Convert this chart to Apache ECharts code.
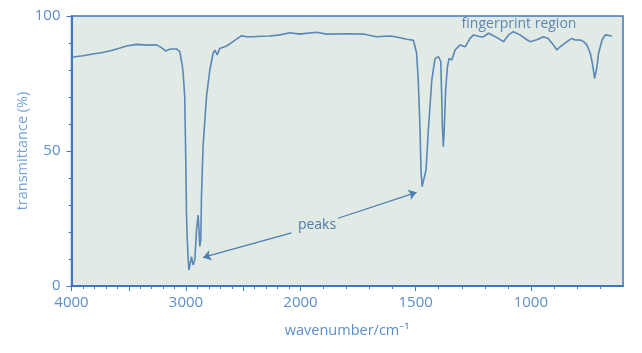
<!DOCTYPE html>
<html><head><meta charset="utf-8">
<script src="https://cdn.jsdelivr.net/npm/echarts@6/dist/echarts.min.js"></script>
<style>html,body{margin:0;padding:0;background:#fff}#c{width:642px;height:353px}</style>
</head><body><div id="c"></div>
<script>
// ---- data ----
const wavenumber = [4000,3900,3814,3740,3659,3590,3520,3432,3340,3258,3214,3176,3150,3127,3083,3054,3031,3025,3011,3002,2996,2990,2982,2975,2962,2952,2938,2923,2908,2894,2886,2880,2871,2865,2851,2821,2792,2763,2748,2728,2705,2646,2589,2515,2470,2414,2350,2268,2180,2093,2006,1930,1887,1800,1728,1670,1612,1583,1539,1510,1496,1489,1481,1477,1472,1464,1455,1445,1430,1416,1401,1391,1387,1384,1380,1376,1370,1362,1355,1343,1329,1307,1285,1264,1249,1220,1206,1184,1141,1119,1097,1076,1047,1017,1003,974,945,925,902,887,873,843,822,807,786,771,757,742,733,723,713,706,691,677,648];
const transmittance = [84.7,85.3,85.9,86.4,87.1,88.0,88.9,89.5,89.2,89.3,88.3,87.0,87.6,87.8,87.8,86.8,81.2,78.8,70.1,46.4,27.0,18.3,10.9,5.9,8.5,10.9,7.8,9.6,20.7,26.3,20.7,14.6,17.0,33.1,51.6,70.1,80.0,86.2,87.4,85.6,88.0,88.9,90.5,92.7,92.3,92.3,92.5,92.6,93.0,93.8,93.3,94.0,93.3,93.4,93.3,92.3,92.6,92.2,91.4,91.0,86.3,76.3,57.8,43.0,36.8,36.2,43.0,57.8,76.3,84.3,84.9,83.1,70.1,59.0,51.6,57.8,72.6,81.2,84.3,83.7,87.4,89.3,88.6,91.7,93.0,92.3,92.3,93.6,91.7,90.5,93.0,94.2,93.0,91.2,90.5,91.2,92.3,91.7,89.3,87.4,88.6,90.5,91.7,91.1,91.1,90.5,89.3,86.2,82.5,76.9,81.2,86.2,91.1,93.0,92.6];
const xLabelsHigh = [4000, 3000];
const xLabelsLow = [2000, 1500, 1000];
const xMajorHigh = [4000, 3500, 3000, 2500, 2000];
const xMajorLow = [2000, 1500, 1000];
const xMinorHigh = [4000,3900,3800,3700,3600,3500,3400,3300,3200,3100,3000,2900,2800,2700,2600,2500,2400,2300,2200,2100,2000];
const xMinorLow = [2000,1900,1800,1700,1600,1500,1400,1300,1200,1100,1000,900,800,700];
const yTicks = [0, 50, 100];
const arrowToCH = [[2079, 19.7], [2851, 10.6]];
const arrowToCH3 = [[1837, 25.1], [1496, 34.7]];

// ---- styling ----
const AXIS = '#3f77c3';
const LABEL = '#5b8ecb';
const NAME = '#76a4d6';
const LINE = '#5a87b8';
const FONT = '"Open Sans", "Noto Sans", sans-serif';

const pts = wavenumber.map((w, i) => [w, transmittance[i]]);
const L = 71.5, T = 16, H = 270, WA = 229, WB = 322.5;

function xAxisPair(grid, min, max, minor, major, labels) {
  return [
    { gridIndex: grid, type: 'value', min, max, inverse: true, position: 'bottom',
      axisLine: { show: true, lineStyle: { color: AXIS, width: 2 } },
      axisTick: { show: true, customValues: minor, length: 3, lineStyle: { color: AXIS, width: 1 } },
      axisLabel: { show: false }, splitLine: { show: false } },
    { gridIndex: grid, type: 'value', min, max, inverse: true, position: 'bottom',
      axisLine: { show: false },
      axisTick: { show: true, customValues: major, length: 5, lineStyle: { color: AXIS, width: 1 } },
      axisLabel: { show: true, customValues: labels, color: LABEL, fontSize: 15, fontFamily: FONT, margin: 9,
        formatter: v => String(v) },
      splitLine: { show: false } }
  ];
}

const chart = echarts.init(document.getElementById('c'), null, { renderer: 'canvas' });
chart.setOption({
  animation: false,
  backgroundColor: '#ffffff',
  grid: [
    { left: L, top: T, width: WA + WB, height: H, show: true, backgroundColor: '#e1eae5', borderColor: AXIS, borderWidth: 1.5 },
    { left: L, top: T, width: WA, height: H },
    { left: L + WA, top: T, width: WB, height: H }
  ],
  xAxis: [
    { gridIndex: 0, type: 'value', show: false, min: 0, max: 1 },
    ...xAxisPair(1, 2000, 4000, xMinorHigh, xMajorHigh, xLabelsHigh),
    ...xAxisPair(2, 600, 2000, xMinorLow, xMajorLow, xLabelsLow)
  ],
  yAxis: [
    { gridIndex: 0, type: 'value', show: false, min: 0, max: 1 },
    { gridIndex: 1, type: 'value', min: 0, max: 100, interval: 50,
      name: 'transmittance (%)', nameLocation: 'middle', nameGap: 33, nameRotate: 90,
      nameTextStyle: { color: NAME, fontSize: 14.5, fontFamily: FONT },
      axisLine: { show: true, lineStyle: { color: AXIS, width: 2 } },
      axisTick: { show: true, length: 5, lineStyle: { color: AXIS } },
      minorTick: { show: true, splitNumber: 5, length: 3, lineStyle: { color: AXIS } },
      axisLabel: { color: LABEL, fontSize: 15, fontFamily: FONT, margin: 11, formatter: v => String(v) },
      splitLine: { show: false }, minorSplitLine: { show: false } },
    { gridIndex: 2, type: 'value', show: false, min: 0, max: 100 }
  ],
  series: [
    { type: 'line', xAxisIndex: 1, yAxisIndex: 1, data: pts, showSymbol: false, clip: true,
      lineStyle: { color: LINE, width: 1.6 }, silent: true,
      markLine: { silent: true, symbol: ['none', 'arrow'], symbolSize: 8, label: { show: false },
        lineStyle: { color: '#4c7db3', width: 1.2, type: 'solid' },
        data: [[{ coord: arrowToCH[0] }, { coord: arrowToCH[1] }]] } },
    { type: 'line', xAxisIndex: 3, yAxisIndex: 2, data: pts, showSymbol: false, clip: true,
      lineStyle: { color: LINE, width: 1.6 }, silent: true,
      markLine: { silent: true, symbol: ['none', 'arrow'], symbolSize: 8, label: { show: false },
        lineStyle: { color: '#4c7db3', width: 1.2, type: 'solid' },
        data: [[{ coord: arrowToCH3[0] }, { coord: arrowToCH3[1] }]] } }
  ],
  graphic: [
    { type: 'text', x: 317, y: 225, z: 10, style: { text: 'peaks', align: 'center', verticalAlign: 'middle', textAlign: 'center', textVerticalAlign: 'middle', fill: '#4f7aa8', font: '14px ' + FONT } },
    { type: 'text', x: 519, y: 24, z: 10, style: { text: 'fingerprint region', align: 'center', verticalAlign: 'middle', textAlign: 'center', textVerticalAlign: 'middle', fill: '#5d87b5', font: '14px ' + FONT } },
    { type: 'text', x: 347, y: 331, z: 10, style: { text: 'wavenumber/cm\u207B\u00B9', align: 'center', verticalAlign: 'middle', textAlign: 'center', textVerticalAlign: 'middle', fill: '#5b8ecb', font: '14.5px ' + FONT } }
  ]
});
</script>
</body></html>
